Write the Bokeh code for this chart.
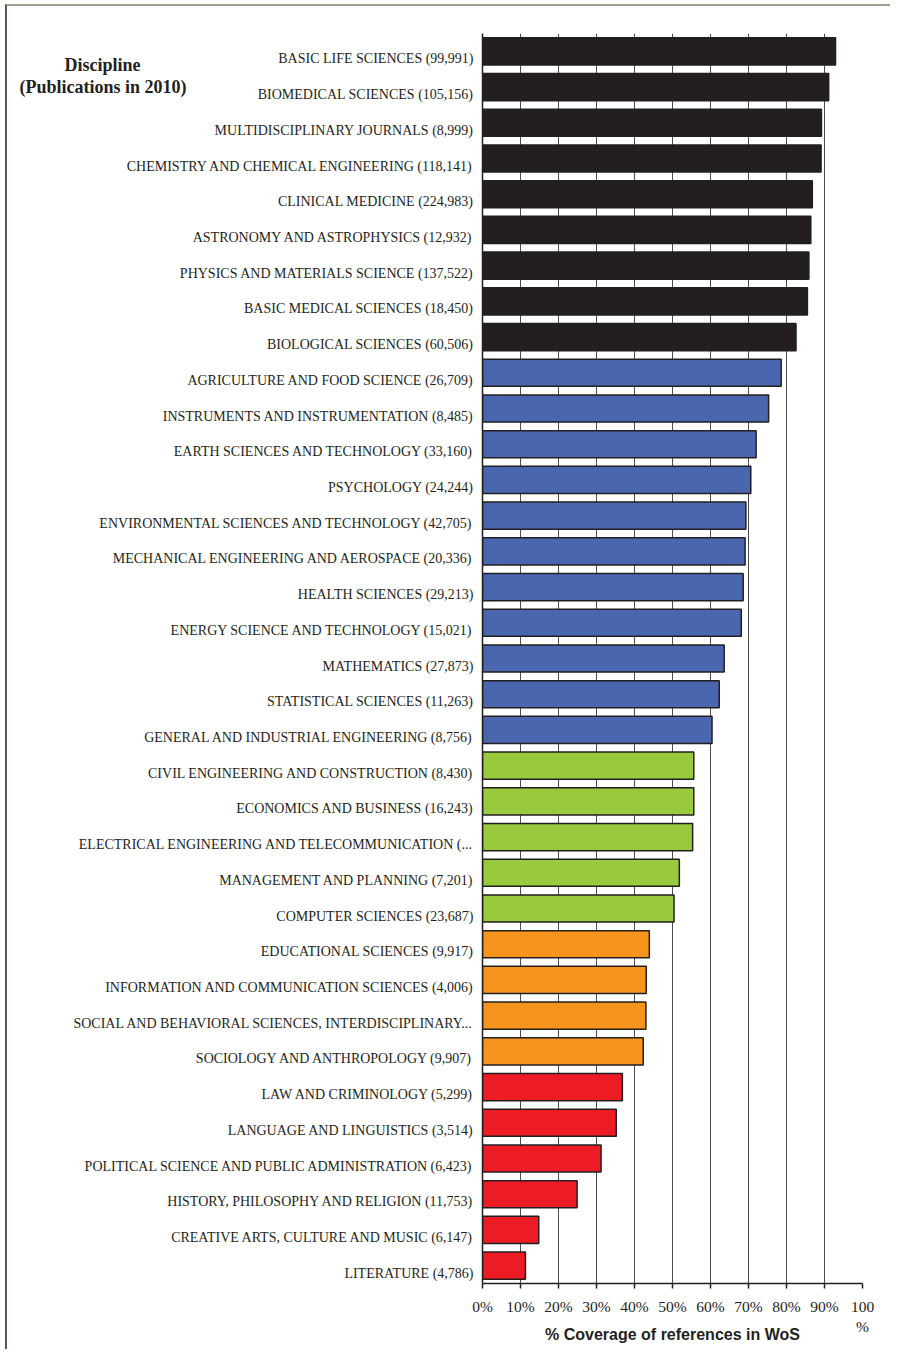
from bokeh.plotting import figure
from bokeh.models import ColumnDataSource, FixedTicker, LinearAxis, Range1d
from bokeh.embed import file_html
from bokeh.resources import INLINE

categories = [
    "BASIC LIFE SCIENCES (99,991)",
    "BIOMEDICAL SCIENCES (105,156)",
    "MULTIDISCIPLINARY JOURNALS (8,999)",
    "CHEMISTRY AND CHEMICAL ENGINEERING (118,141)",
    "CLINICAL MEDICINE (224,983)",
    "ASTRONOMY AND ASTROPHYSICS (12,932)",
    "PHYSICS AND MATERIALS SCIENCE (137,522)",
    "BASIC MEDICAL SCIENCES (18,450)",
    "BIOLOGICAL SCIENCES (60,506)",
    "AGRICULTURE AND FOOD SCIENCE (26,709)",
    "INSTRUMENTS AND INSTRUMENTATION (8,485)",
    "EARTH SCIENCES AND TECHNOLOGY (33,160)",
    "PSYCHOLOGY (24,244)",
    "ENVIRONMENTAL SCIENCES AND TECHNOLOGY (42,705)",
    "MECHANICAL ENGINEERING AND AEROSPACE (20,336)",
    "HEALTH SCIENCES (29,213)",
    "ENERGY SCIENCE AND TECHNOLOGY (15,021)",
    "MATHEMATICS (27,873)",
    "STATISTICAL SCIENCES (11,263)",
    "GENERAL AND INDUSTRIAL ENGINEERING (8,756)",
    "CIVIL ENGINEERING AND CONSTRUCTION (8,430)",
    "ECONOMICS AND BUSINESS (16,243)",
    "ELECTRICAL ENGINEERING AND TELECOMMUNICATION (...",
    "MANAGEMENT AND PLANNING (7,201)",
    "COMPUTER SCIENCES (23,687)",
    "EDUCATIONAL SCIENCES (9,917)",
    "INFORMATION AND COMMUNICATION SCIENCES (4,006)",
    "SOCIAL AND BEHAVIORAL SCIENCES, INTERDISCIPLINARY...",
    "SOCIOLOGY AND ANTHROPOLOGY (9,907)",
    "LAW AND CRIMINOLOGY (5,299)",
    "LANGUAGE AND LINGUISTICS (3,514)",
    "POLITICAL SCIENCE AND PUBLIC ADMINISTRATION (6,423)",
    "HISTORY, PHILOSOPHY AND RELIGION (11,753)",
    "CREATIVE ARTS, CULTURE AND MUSIC (6,147)",
    "LITERATURE (4,786)",
]

coverage = [
    92.9, 91.1, 89.2, 89.1, 86.8, 86.4, 85.9, 85.5, 82.5,
    78.6, 75.3, 72.0, 70.6, 69.3, 69.1, 68.6, 68.1, 63.6, 62.3, 60.4,
    55.6, 55.6, 55.3, 51.8, 50.4,
    43.9, 43.1, 43.0, 42.3,
    36.8, 35.2, 31.2, 24.9, 14.8, 11.3,
]

group_sizes = [9, 11, 5, 4, 6]
group_colors = ["#231f20", "#4a66ae", "#99c93c", "#f7941d", "#ed1c24"]

x_ticks = [0, 10, 20, 30, 40, 50, 60, 70, 80, 90, 100]
x_tick_labels = ["0%", "10%", "20%", "30%", "40%", "50%", "60%", "70%", "80%", "90%", "100\n%"]

title_lines = ["Discipline", "(Publications in 2010)"]
x_title = "% Coverage of references in WoS"

colors = []
for size, col in zip(group_sizes, group_colors):
    colors += [col] * size

n = len(categories)
slot = 100                      # one category slot in y units
ypos = [slot * (n - i) - slot // 2 for i in range(n)]   # top category first
label_shift = 21                # category labels sit a little below bar centres
label_ticks = [y - label_shift for y in ypos]
title_ticks = [n * slot - 87, n * slot - 151]   # the two title lines near the top

src = ColumnDataSource(dict(cat=categories, val=coverage, color=colors, y=ypos))

TXT = "#231f20"
SERIF = "Liberation Serif"
W, H = 885, 1345

p = figure(width=W, height=H, output_backend="svg", toolbar_location=None,
           x_range=Range1d(0, 100), y_range=Range1d(0, n * slot),
           min_border_left=475, min_border_right=30, min_border_top=27, min_border_bottom=68)
p.outline_line_color = None
p.background_fill_color = "white"
p.border_fill_color = "white"
p.styles = {"margin-left": "5px", "margin-top": "4px",
            "border-left": "2px solid #5e5646", "border-top": "2px solid #a39d8c"}

p.hbar(y="y", right="val", left=0, height=slot * 0.76, source=src,
       fill_color="color", line_color="#231f20", line_width=1.5)

# x axis
p.xaxis.ticker = FixedTicker(ticks=x_ticks)
p.xaxis.major_label_overrides = {t: l for t, l in zip(x_ticks, x_tick_labels)}
p.xaxis.major_label_text_font = SERIF
p.xaxis.major_label_text_font_size = "15.5px"
p.xaxis.major_label_text_color = TXT
p.xaxis.major_label_standoff = 9
p.xaxis.axis_line_color = "#231f20"
p.xaxis.axis_line_width = 1.5
p.xaxis.major_tick_line_color = "#231f20"
p.xaxis.major_tick_line_width = 1.5
p.xaxis.major_tick_in = 0
p.xaxis.major_tick_out = 5
p.xaxis.minor_tick_line_color = None
p.xaxis.axis_label = x_title
p.xaxis.axis_label_text_font = "Liberation Sans"
p.xaxis.axis_label_text_font_size = "16px"
p.xaxis.axis_label_text_font_style = "bold"
p.xaxis.axis_label_text_color = TXT
p.xaxis.axis_label_standoff = -12

# y axis with category labels
p.yaxis.ticker = FixedTicker(ticks=label_ticks)
p.yaxis.major_label_overrides = {t: c for t, c in zip(label_ticks, categories)}
p.yaxis.major_label_text_font = SERIF
p.yaxis.major_label_text_font_size = "14px"
p.yaxis.major_label_text_color = TXT
p.yaxis.major_label_standoff = 9
p.yaxis.major_tick_line_color = None
p.yaxis.major_tick_in = 0
p.yaxis.major_tick_out = 0
p.yaxis.minor_tick_line_color = None
p.yaxis.axis_line_color = "#231f20"
p.yaxis.axis_line_width = 1.5


def title_axis(tick, text, standoff):
    ax = LinearAxis(ticker=FixedTicker(ticks=[tick]),
                    major_label_overrides={tick: text},
                    major_label_text_font=SERIF, major_label_text_font_size="18px",
                    major_label_text_font_style="bold", major_label_text_color=TXT,
                    major_label_standoff=standoff,
                    axis_line_color=None, major_tick_line_color=None,
                    minor_tick_line_color=None, major_tick_in=0, major_tick_out=0)
    p.add_layout(ax, "left")


# the heading of the label column, drawn as two label-only axes further left
title_axis(title_ticks[1], title_lines[1], -116)
title_axis(title_ticks[0], title_lines[0], -124)

p.xgrid.ticker = FixedTicker(ticks=x_ticks)
p.xgrid.grid_line_color = "#4d4d4d"
p.xgrid.grid_line_width = 1
p.ygrid.grid_line_color = None

open("out.html", "w").write(file_html(p, INLINE))
